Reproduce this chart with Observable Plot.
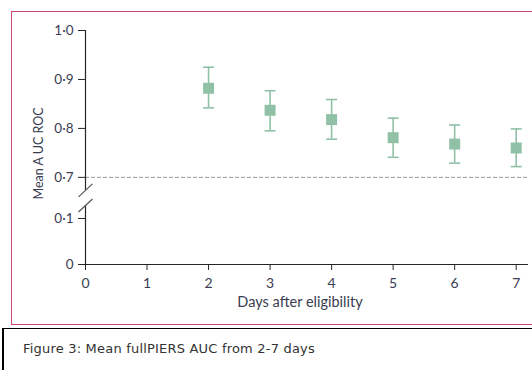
<!DOCTYPE html>
<html>
<head>
<meta charset="utf-8">
<script src="https://cdn.jsdelivr.net/npm/d3@7"></script>
<script src="https://cdn.jsdelivr.net/npm/@observablehq/plot@0.6"></script>
<style>
  html, body { margin: 0; padding: 0; background: #fff; width: 532px; height: 370px; overflow: hidden; }
  #wrap { position: relative; width: 532px; height: 370px; }
  #chart { position: absolute; left: 0; top: 0; }
  #pinkbox { position: absolute; left: 11px; top: 11px; width: 640px; height: 312px; border: 1px solid #c8466f; pointer-events: none; }
  #capbox { position: absolute; left: 2px; top: 328px; width: 640px; height: 100px; border: 1px solid #000; border-left: 2px solid #000; }
  #caption { position: absolute; left: 23px; top: 342px; font-family: "DejaVu Sans"; font-size: 13px; letter-spacing: 0.2px; line-height: 1; color: #333; white-space: nowrap; }
</style>
</head>
<body>
<div id="wrap">
  <div id="chart"></div>
  <div id="pinkbox"></div>
  <div id="capbox"></div>
  <div id="caption">Figure 3: Mean fullPIERS AUC from 2-7 days</div>
</div>
<script>
// ---- data ----
const days = [2, 3, 4, 5, 6, 7];
const meanAUC = [0.882, 0.837, 0.818, 0.781, 0.768, 0.760];
const lowerCI = [0.842, 0.795, 0.778, 0.741, 0.729, 0.722];
const upperCI = [0.925, 0.877, 0.859, 0.821, 0.807, 0.799];
const xTicks = [0, 1, 2, 3, 4, 5, 6, 7];
const yTicks = [0, 0.1, 0.7, 0.8, 0.9, 1.0];
const yBreakDomain = [0, 0.1, 0.7, 1.0];
const yBreakDisplay = [0, 0.094, 0.178, 0.478];
const referenceLine = [0.7];
const axisBreak = [0.29, 0.51];
const xLabel = "Days after eligibility";
const yLabel = "Mean A UC ROC";

const rows = days.map((d, i) => ({day: d, mean: meanAUC[i], lo: lowerCI[i], hi: upperCI[i]}));

// broken-axis transform: compresses the 0.1–0.7 gap
const brokenY = d3.scaleLinear().domain(yBreakDomain).range(yBreakDisplay);

const green = "#90c1a6";
const axisColor = "#262626";
const textColor = "#3a3d52";

const capSymbol = {draw(ctx, size) { ctx.moveTo(-5.5, 0); ctx.lineTo(5.5, 0); }};
const slashSymbol = {draw(ctx, size) { ctx.moveTo(-7, 6.5); ctx.lineTo(7, -6.5); }};

const fmt = v => v === 0 ? "0" : v.toFixed(1).replace(".", "\u00B7");
// axis marks receive ticks in the scale's transformed space
const axisTicks = yTicks.map(brokenY);
const axisFmt = t => fmt(Math.round(brokenY.invert(t) * 10) / 10);

const chart = Plot.plot({
  width: 532,
  height: 325,
  marginLeft: 85,
  marginRight: 4,
  marginTop: 42,
  marginBottom: 61,
  style: {fontFamily: "Lato, 'Open Sans', sans-serif", background: "transparent"},
  x: {domain: [0, 7.2]},
  y: {transform: brokenY, domain: [0, yBreakDisplay[3]], range: [264, 30]},
  marks: [
    Plot.ruleY(referenceLine, {x1: 0, x2: 7.2, stroke: "#9a9a9a", strokeWidth: 1, strokeDasharray: "4,2"}),
    Plot.ruleX([0], {y1: 0, y2: axisBreak[0], stroke: axisColor, strokeWidth: 1.2}),
    Plot.ruleX([0], {y1: axisBreak[1], y2: 1.0, stroke: axisColor, strokeWidth: 1.2}),
    Plot.dot(axisBreak, {x: 0, y: d => d, symbol: slashSymbol, stroke: "#555", strokeWidth: 1.2, r: 4}),
    Plot.ruleY([0], {stroke: axisColor, strokeWidth: 1.2}),
    Plot.axisX({ticks: xTicks, tickSize: 6, tickPadding: 8, stroke: axisColor, fill: textColor, fontSize: 14, label: null}),
    Plot.axisY({ticks: axisTicks, tickSize: 7, tickPadding: 5, tickFormat: axisFmt, stroke: axisColor, fill: textColor, fontSize: 13.5, label: null}),
    Plot.text([xLabel], {frameAnchor: "bottom", lineAnchor: "middle", textAnchor: "middle", dx: -7, dy: 38, fontSize: 14.5, fill: textColor}),
    Plot.text([yLabel], {frameAnchor: "left", textAnchor: "middle", lineAnchor: "middle", rotate: -90, dx: -47, fontSize: 12.5, fill: textColor}),
    Plot.ruleX(rows, {x: "day", y1: "lo", y2: "hi", stroke: green, strokeWidth: 1.6}),
    Plot.dot(rows, {x: "day", y: "lo", symbol: capSymbol, stroke: green, strokeWidth: 1.6, r: 4}),
    Plot.dot(rows, {x: "day", y: "hi", symbol: capSymbol, stroke: green, strokeWidth: 1.6, r: 4}),
    Plot.dot(rows, {x: "day", y: "mean", symbol: "square", r: 6.2, fill: green, stroke: "none"})
  ]
});
document.getElementById("chart").appendChild(chart);
</script>
</body>
</html>
